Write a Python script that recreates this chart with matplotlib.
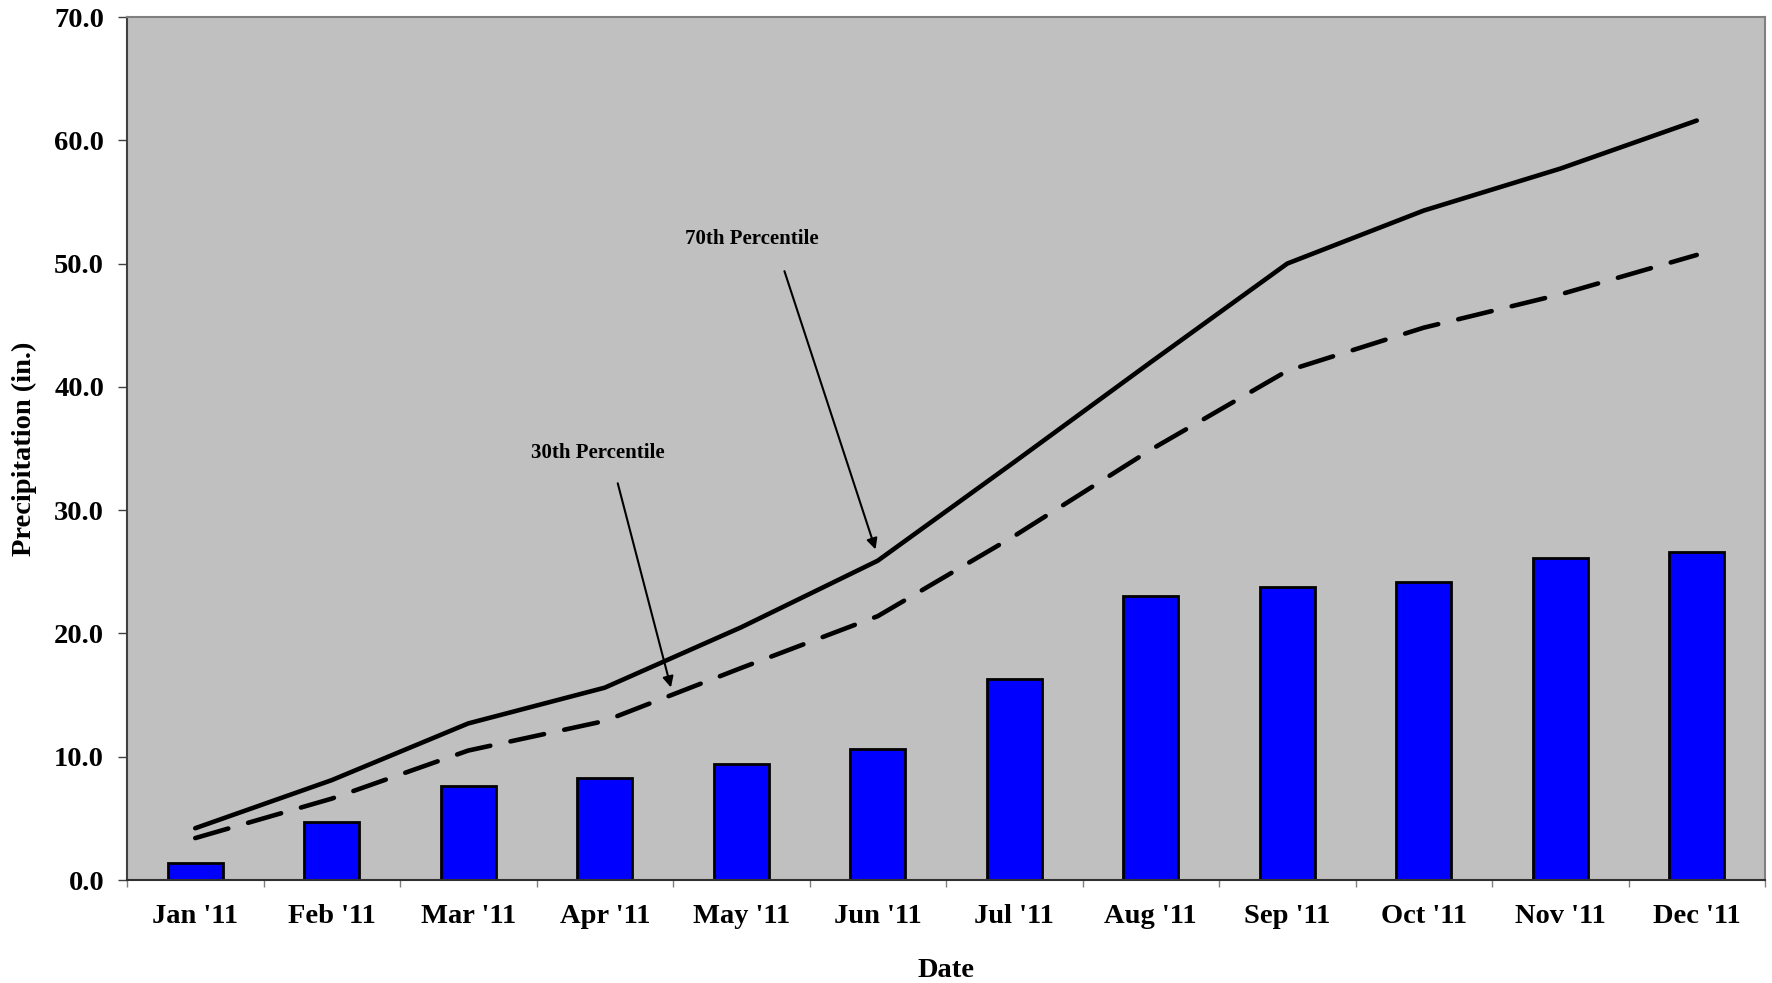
import matplotlib
matplotlib.use("Agg")
import matplotlib.pyplot as plt
import numpy as np

months = ["Jan '11", "Feb '11", "Mar '11", "Apr '11", "May '11", "Jun '11",
          "Jul '11", "Aug '11", "Sep '11", "Oct '11", "Nov '11", "Dec '11"]
observed = [1.4, 4.7, 7.6, 8.3, 9.4, 10.6, 16.3, 23.0, 23.8, 24.2, 26.1, 26.6]
pct70 = [4.2, 8.1, 12.7, 15.6, 20.5, 25.9, 33.9, 42.0, 50.0, 54.3, 57.7, 61.6]
pct30 = [3.4, 6.6, 10.5, 12.9, 17.2, 21.4, 27.9, 34.9, 41.3, 44.8, 47.5, 50.7]
yticks = [0, 10, 20, 30, 40, 50, 60, 70]

plt.rcParams['font.family'] = ['Liberation Serif', 'DejaVu Serif']
plt.rcParams['font.weight'] = 'bold'

FS = 20.5

fig = plt.figure(figsize=(17.72, 9.83), dpi=100)
ax = fig.add_axes([127/1772, 1 - 880/983, (1765 - 127)/1772, (880 - 17)/983])
ax.set_facecolor('#c0c0c0')

x = np.arange(len(months))
ax.bar(x, observed, width=0.4, color='#0000ff', edgecolor='black', linewidth=2, zorder=2)
ax.plot(x, pct70, color='black', lw=3.3, solid_capstyle='round', zorder=3)
ax.plot(x, pct30, color='black', lw=3.3, dashes=(7.5, 4.5), dash_capstyle='round', zorder=3)

ax.set_xlim(-0.5, len(months) - 0.5)
ax.set_ylim(0, 70)
ax.set_yticks(yticks)
ax.set_yticklabels([f"{v:.1f}" for v in yticks], fontsize=FS, fontweight='bold')
ax.set_xticks(np.arange(-0.5, len(months), 1.0))
ax.set_xticklabels([])
ax.set_xticks(x, minor=True)
ax.set_xticklabels(months, minor=True, fontsize=FS, fontweight='bold')
ax.tick_params(axis='x', which='minor', length=0, pad=17)
ax.tick_params(axis='x', which='major', length=5, width=1, color='#808080')
ax.tick_params(axis='y', length=6.5, width=1, color='#404040', pad=10)

for s in ['top', 'right']:
    ax.spines[s].set_color('#808080')
    ax.spines[s].set_linewidth(1.5)
ax.spines['left'].set_color('#404040')
ax.spines['bottom'].set_color('#303030')
ax.spines['left'].set_linewidth(1.5)
ax.spines['bottom'].set_linewidth(1.5)

ax.set_xlabel('Date', fontsize=FS, fontweight='bold', labelpad=21)
ax.set_ylabel('Precipitation (in.)', fontsize=FS, fontweight='bold', labelpad=12)

# annotations
ax.text(4.08, 52.0, '70th Percentile', fontsize=15, fontweight='bold', ha='center', va='center')
ax.annotate('', xy=(4.99, 26.6), xytext=(4.31, 49.6),
            arrowprops=dict(arrowstyle='-|>', color='black', lw=1.5, mutation_scale=16))
ax.text(2.95, 34.6, '30th Percentile', fontsize=15, fontweight='bold', ha='center', va='center')
ax.annotate('', xy=(3.49, 15.4), xytext=(3.09, 32.4),
            arrowprops=dict(arrowstyle='-|>', color='black', lw=1.5, mutation_scale=16))

fig.savefig('out.png', dpi=100, facecolor='white')
